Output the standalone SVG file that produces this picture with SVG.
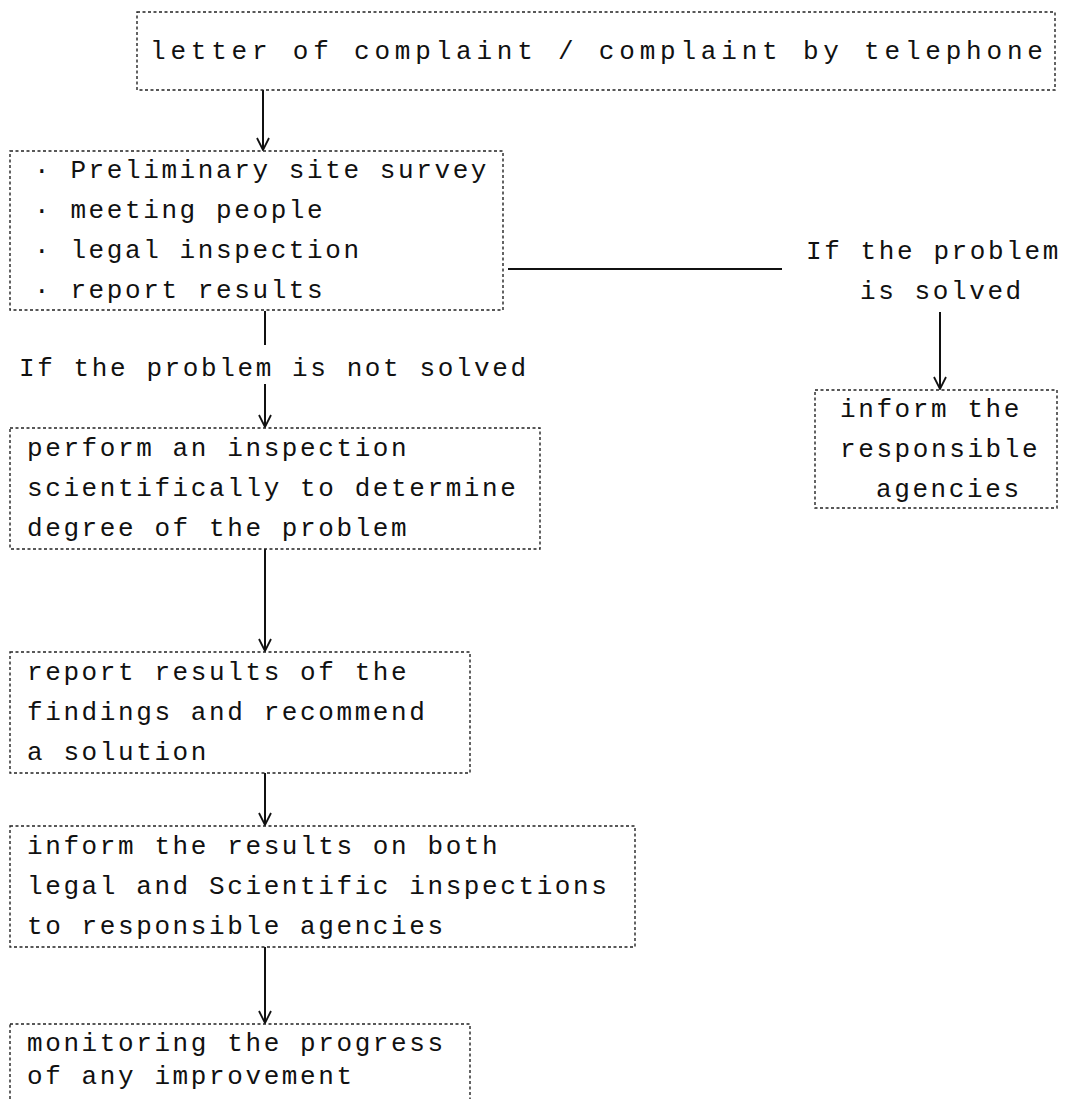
<svg xmlns="http://www.w3.org/2000/svg" width="1067" height="1099" viewBox="0 0 1067 1099">
  <style>
    .box { fill: none; stroke: #222; stroke-width: 1.4; stroke-dasharray: 3 2.5; }
    .t { font-family: "Liberation Mono", "DejaVu Sans Mono", monospace; font-size: 26px; letter-spacing: 2.6px; fill: #111; }
    .wide { letter-spacing: 4.8px; }
    .conn { stroke: #111; stroke-width: 2; fill: none; }
  </style>
  <defs>
    <marker id="arrow" viewBox="-13 -7 14 14" refX="0" refY="0" markerWidth="14" markerHeight="14" markerUnits="userSpaceOnUse" orient="auto">
      <path d="M-12,-6 L0,0 L-12,6" fill="none" stroke="#111" stroke-width="1.8"/>
    </marker>
  </defs>

  <rect width="1067" height="1099" fill="#fff"/>

  <g id="connectors">
    <line class="conn" x1="263" y1="90" x2="263" y2="150" marker-end="url(#arrow)"/>
    <line class="conn" x1="265" y1="311" x2="265" y2="345"/>
    <line class="conn" x1="265" y1="384" x2="265" y2="427" marker-end="url(#arrow)"/>
    <line class="conn" x1="265" y1="549" x2="265" y2="651" marker-end="url(#arrow)"/>
    <line class="conn" x1="265" y1="773" x2="265" y2="825" marker-end="url(#arrow)"/>
    <line class="conn" x1="265" y1="947" x2="265" y2="1023" marker-end="url(#arrow)"/>
    <line class="conn" x1="508" y1="269" x2="782" y2="269"/>
    <line class="conn" x1="940" y1="312" x2="940" y2="389" marker-end="url(#arrow)"/>
  </g>

  <g id="complaint">
    <rect class="box" x="137" y="12" width="918" height="78"/>
    <text class="t wide" x="150" y="59">letter of complaint / complaint by telephone</text>
  </g>

  <g id="survey">
    <rect class="box" x="10" y="151" width="493" height="159"/>
    <text class="t" x="34" y="178">· Preliminary site survey</text>
    <text class="t" x="34" y="218">· meeting people</text>
    <text class="t" x="34" y="258">· legal inspection</text>
    <text class="t" x="34" y="298">· report results</text>
  </g>

  <g id="label-solved">
    <text class="t" x="806" y="259">If the problem</text>
    <text class="t" x="860" y="299">is solved</text>
  </g>

  <g id="inform-agencies">
    <rect class="box" x="815" y="390" width="242" height="118"/>
    <text class="t" x="840" y="417">inform the</text>
    <text class="t" x="840" y="457">responsible</text>
    <text class="t" x="876" y="497">agencies</text>
  </g>

  <g id="label-not-solved">
    <text class="t" x="19" y="376">If the problem is not solved</text>
  </g>

  <g id="scientific-inspection">
    <rect class="box" x="10" y="428" width="530" height="121"/>
    <text class="t" x="27" y="456">perform an inspection</text>
    <text class="t" x="27" y="496">scientifically to determine</text>
    <text class="t" x="27" y="536">degree of the problem</text>
  </g>

  <g id="report-findings">
    <rect class="box" x="10" y="652" width="460" height="121"/>
    <text class="t" x="27" y="680">report results of the</text>
    <text class="t" x="27" y="720">findings and recommend</text>
    <text class="t" x="27" y="760">a solution</text>
  </g>

  <g id="inform-results">
    <rect class="box" x="10" y="826" width="625" height="121"/>
    <text class="t" x="27" y="854">inform the results on both</text>
    <text class="t" x="27" y="894">legal and Scientific inspections</text>
    <text class="t" x="27" y="934">to responsible agencies</text>
  </g>

  <g id="monitoring">
    <rect class="box" x="10" y="1024" width="460" height="100"/>
    <text class="t" x="27" y="1051">monitoring the progress</text>
    <text class="t" x="27" y="1084">of any improvement</text>
  </g>
</svg>
